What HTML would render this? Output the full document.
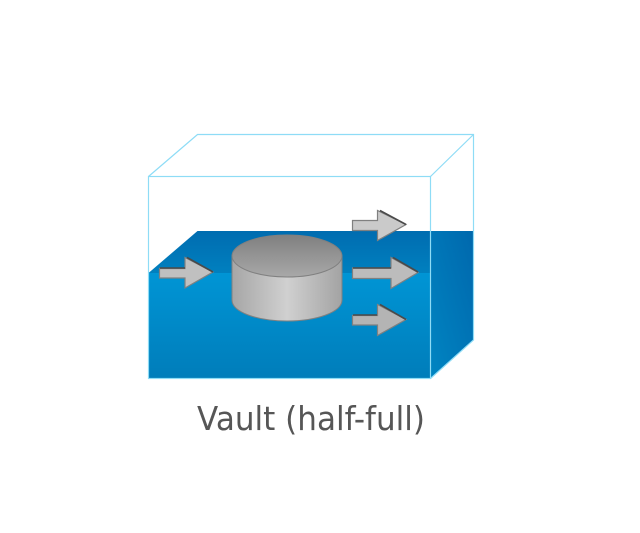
<!DOCTYPE html>
<html>
<head>
<meta charset="utf-8">
<style>
html,body{margin:0;padding:0;background:#fff;width:640px;height:533px;overflow:hidden}
svg{display:block}
</style>
</head>
<body>
<svg width="640" height="533" viewBox="0 0 640 533" xmlns="http://www.w3.org/2000/svg">
<defs>
<linearGradient id="front" x1="0" y1="0" x2="0" y2="1">
<stop offset="0" stop-color="#0095d5"/>
<stop offset="1" stop-color="#007dba"/>
</linearGradient>
<linearGradient id="top" x1="0" y1="0" x2="0" y2="1">
<stop offset="0" stop-color="#006cb0"/>
<stop offset="1" stop-color="#0080bf"/>
</linearGradient>
<linearGradient id="side" x1="0" y1="1" x2="1" y2="0">
<stop offset="0" stop-color="#0085c2"/>
<stop offset="1" stop-color="#0068ad"/>
</linearGradient>
<linearGradient id="cylBody" x1="0" y1="0" x2="1" y2="0">
<stop offset="0" stop-color="#a6a6a6"/>
<stop offset="0.5" stop-color="#d0d0d0"/>
<stop offset="1" stop-color="#a3a3a3"/>
</linearGradient>
<linearGradient id="cylTop" x1="0" y1="0" x2="0" y2="1">
<stop offset="0" stop-color="#808080"/>
<stop offset="1" stop-color="#a8a8a8"/>
</linearGradient>
</defs>

<!-- water -->
<polygon points="148.5,273 197.5,231 430.5,231 430.5,273" fill="url(#top)"/>
<polygon points="430.5,231 473.5,231 473.5,340 430.5,378.5" fill="url(#side)"/>
<rect x="148.5" y="273" width="282" height="105.5" fill="url(#front)"/>

<!-- cylinder -->
<path d="M232 256 V300 C232 312 257 321 287 321 C317 321 342 312 342 300 V256 Z" fill="url(#cylBody)" stroke="#808080" stroke-width="1"/>
<ellipse cx="287" cy="256" rx="55" ry="21" fill="url(#cylTop)" stroke="#808080" stroke-width="1"/>

<!-- arrows -->
<g stroke="#808080" stroke-width="1.2" fill="#c4c4c4">
<path d="M352.500 220.500 H377.500 V210.500 L406 224.500 L377.500 240.500 V230.500 H352.500 Z" fill="#cacaca"/>
<path d="M159.500 268.500 H185 V257.500 L213 272 L185 288 V278 H159.500 Z" fill="#c0c0c0"/>
<path d="M352.500 268 H391 V257.500 L418 272.500 L391 288.500 V278.500 H352.500 Z" fill="#bcbcbc"/>
<path d="M352.500 315.500 H377.500 V304.500 L406 319.500 L377.500 335.500 V325 H352.500 Z" fill="#b4b4b4"/>
</g>
<!-- arrow dark upper edges -->
<g stroke="#4a4a4a" stroke-width="1.6" fill="none">
<path d="M380 210.500 L406 224.500"/>
<path d="M160 268 H185 M187 257.500 L213 272"/>
<path d="M353 268 H391 M393 257.500 L418 272"/>
<path d="M353 315 H377 M380 304.500 L406 319.500"/>
</g>

<!-- wire box -->
<g fill="none" stroke="#8edcf6" stroke-width="1.200">
<rect x="148.500" y="176.500" width="282" height="202"/>
<path d="M148.500 176.500 L197.500 134.500 H473.500 V340 L430.500 378.500"/>
<path d="M430.500 176.500 L473.500 134.500"/>
</g>

<text x="197" y="430" font-family="'DejaVu Sans',sans-serif" font-size="33" fill="#565656" textLength="228" lengthAdjust="spacingAndGlyphs">Vault (half-full)</text>
</svg>
</body>
</html>
